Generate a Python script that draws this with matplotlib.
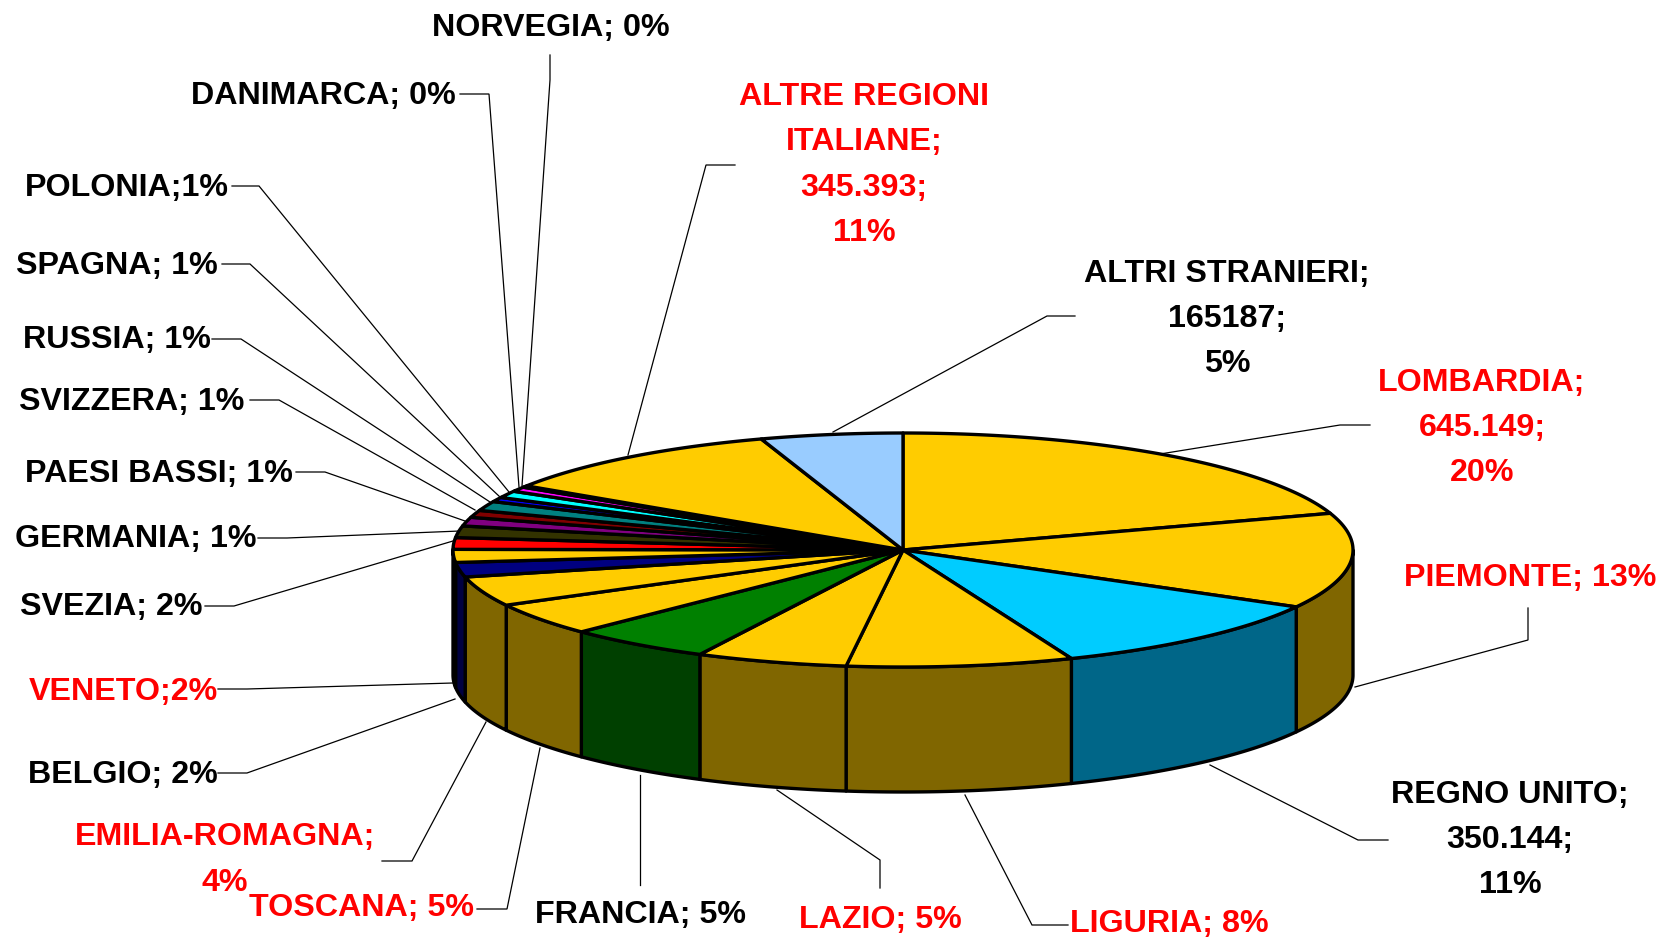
import numpy as np
import matplotlib
matplotlib.use("Agg")
import matplotlib.pyplot as plt
from matplotlib.patches import Polygon

# ---- data (clockwise from 12 o'clock)
categories = ["LOMBARDIA", "PIEMONTE", "REGNO UNITO", "LIGURIA", "LAZIO", "FRANCIA",
              "TOSCANA", "EMILIA-ROMAGNA", "BELGIO", "VENETO", "SVEZIA", "GERMANIA",
              "PAESI BASSI", "SVIZZERA", "RUSSIA", "SPAGNA", "POLONIA", "DANIMARCA",
              "NORVEGIA", "ALTRE REGIONI ITALIANE", "ALTRI STRANIERI"]
values = [645149, 426000, 350144, 263000, 176000, 169000,
          146000, 133000, 65000, 58000, 52000, 52000,
          39000, 32000, 42000, 20000, 31000, 21000,
          7000, 345393, 165187]
labels = ["LOMBARDIA;\n645.149;\n20%", "PIEMONTE; 13%", "REGNO UNITO;\n350.144;\n11%",
          "LIGURIA; 8%", "LAZIO; 5%", "FRANCIA; 5%", "TOSCANA; 5%",
          "EMILIA-ROMAGNA;\n4%", "BELGIO; 2%", "VENETO;2%", "SVEZIA; 2%", "GERMANIA; 1%",
          "PAESI BASSI; 1%", "SVIZZERA; 1%", "RUSSIA; 1%", "SPAGNA; 1%", "POLONIA;1%",
          "DANIMARCA; 0%", "NORVEGIA; 0%", "ALTRE REGIONI\nITALIANE;\n345.393;\n11%",
          "ALTRI STRANIERI;\n165187;\n5%"]
red_labels = ["LOMBARDIA", "PIEMONTE", "LIGURIA", "LAZIO", "TOSCANA", "EMILIA-ROMAGNA",
              "VENETO", "ALTRE REGIONI ITALIANE"]

# ---- styles
Y = "#FFCC00"
top_colors = [Y, Y, "#00CCFF", Y, Y, "#008000", Y, Y, "#000080", Y, "#FF0000", "#333300",
              "#800080", "#800000", "#008080", "#0000FF", "#00FFFF", "#FF00FF", "#1A0000",
              Y, "#99CCFF"]
BR = "#806600"
wall_colors = [BR, BR, "#006688", BR, BR, "#004000", BR, BR, "#000040", BR, "#800000", "#1A1A00",
               "#400040", "#400000", "#004040", "#000080", "#008080", "#800080", "#0D0000",
               BR, "#4D6680"]

label_pos = [(1482, 428), (1530, 578), (1510, 840), (1169, 924), (880, 920), (641, 915),
             (362, 908), (225, 860), (123, 775), (123, 692), (111, 607), (136, 539),
             (159, 474), (132, 402), (117, 340), (117, 266), (127, 188), (323, 96),
             (551, 28), (864, 165), (1227, 319)]
leaders = [[(1370, 425), (1340, 425), (1160, 454)],
           [(1528, 608), (1528, 640), (1355, 687)],
           [(1388, 840), (1358, 840), (1210, 765)],
           [(1068, 925), (1032, 925), (965, 795)],
           [(880, 888), (880, 860), (777, 790)],
           [(640, 885), (640, 775)],
           [(477, 909), (507, 909), (540, 748)],
           [(382, 861), (412, 861), (486, 722)],
           [(218, 773), (247, 773), (455, 699)],
           [(218, 689), (247, 689), (453, 683)],
           [(205, 606), (234, 606), (453, 541)],
           [(258, 538), (287, 538), (460, 531)],
           [(296, 472), (325, 472), (465, 521)],
           [(250, 400), (279, 400), (475, 510)],
           [(212, 339), (241, 339), (490, 502)],
           [(222, 264), (250, 264), (500, 497)],
           [(232, 186), (259, 186), (509, 492)],
           [(460, 94), (489, 94), (519, 487)],
           [(550, 55), (550, 80), (522, 486)],
           [(735, 165), (706, 165), (628, 455)],
           [(1075, 316), (1047, 316), (833, 432)]]

CX, CY, RX, RY, DEPTH = 903, 550, 450, 117, 125
EDGE_LW = 2.4

plt.rcParams["font.family"] = ["Liberation Sans", "DejaVu Sans"]
fig = plt.figure(figsize=(16.68, 9.41), dpi=100)
ax = fig.add_axes([0, 0, 1, 1])
ax.set_xlim(0, 1668)
ax.set_ylim(941, 0)
ax.axis("off")

fractions = np.array(values, dtype=float)
fractions /= fractions.sum()
bounds = 90 - 360 * np.concatenate([[0], np.cumsum(fractions)])  # clockwise


def rim(a0, a1, dz=0.0):
    t = np.radians(np.linspace(a0, a1, max(int(abs(a1 - a0) * 2), 2)))
    return np.column_stack([CX + RX * np.cos(t), CY - RY * np.sin(t) + dz])


for start, end, wc in zip(bounds[:-1], bounds[1:], wall_colors):
    a = min(start, 0)      # the front half of the rim lies in [-180, 0]
    b = max(end, -180)
    if a > b:
        ax.add_patch(Polygon(np.vstack([rim(a, b), rim(b, a, DEPTH)]), closed=True,
                             facecolor=wc, edgecolor="black", lw=EDGE_LW,
                             joinstyle="round", zorder=2))

for start, end, tc in zip(bounds[:-1], bounds[1:], top_colors):
    pts = np.vstack([[[CX, CY]], rim(start, end)])
    ax.add_patch(Polygon(pts, closed=True, facecolor=tc, edgecolor="black",
                         lw=EDGE_LW, joinstyle="round", zorder=3))

for name, text, pos, path in zip(categories, labels, label_pos, leaders):
    col = "#FF0000" if name in red_labels else "black"
    xs, ys = zip(*path)
    ax.plot(xs, ys, color="black", lw=0.9, zorder=1, solid_joinstyle="miter")
    ax.text(pos[0], pos[1], text, ha="center", va="center", color=col, fontsize=23.2,
            fontweight="bold", linespacing=1.66, zorder=5)

fig.savefig("out.png", dpi=100, facecolor="white")
